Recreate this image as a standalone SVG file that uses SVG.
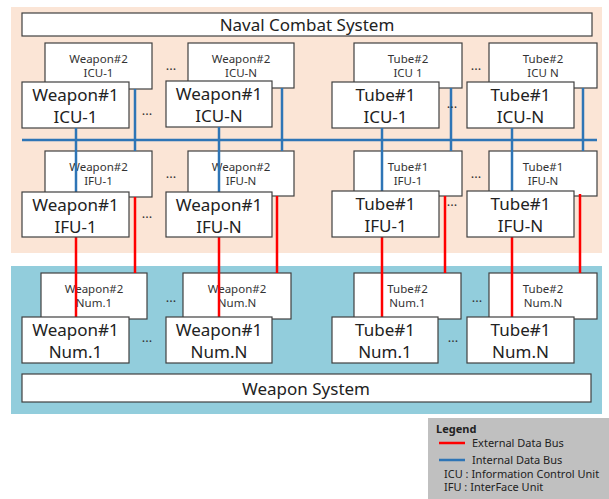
<svg xmlns="http://www.w3.org/2000/svg" width="609" height="499" viewBox="0 0 609 499">
<style>
text{font-family:"Noto Sans","Open Sans","DejaVu Sans",sans-serif;fill:#222}
.box{fill:#fff;stroke:#404040;stroke-width:1.2}
.big{font-size:17px;text-anchor:middle}
.sm{font-size:11.5px;text-anchor:middle;fill:#333}
.dots{font-size:13px;text-anchor:middle;fill:#333}
.ib{stroke:#2e75b6;stroke-width:2.5;fill:none}
.eb{stroke:#ff0000;stroke-width:2.5;fill:none}
.leg{font-size:11px;fill:#222}
</style>
<rect width="609" height="499" fill="#fff"/>
<g id="naval-area"><rect x="11" y="7" width="591" height="246" fill="#fbe5d6"/></g>
<g id="weapon-area"><rect x="11" y="266" width="591" height="148" fill="#92cddc"/></g>
<g id="naval-combat-system"><rect class="box" x="22" y="13" width="570" height="23"/><text class="big" x="307" y="31">Naval Combat System</text></g>
<g id="weapon-system"><rect class="box" x="22" y="374" width="569" height="28"/><text class="big" x="306" y="395">Weapon System</text></g>

<!-- ICU row back boxes -->
<g id="w2-icu-1"><rect class="box" x="45" y="43" width="107" height="46"/><text class="sm" x="98.5" y="63">Weapon#2</text><text class="sm" x="98.5" y="77">ICU-1</text></g>
<g id="w2-icu-n"><rect class="box" x="188" y="43" width="106" height="45"/><text class="sm" x="241" y="63">Weapon#2</text><text class="sm" x="241" y="77">ICU-N</text></g>
<g id="t2-icu-1"><rect class="box" x="354" y="43" width="108" height="45"/><text class="sm" x="408" y="63">Tube#2</text><text class="sm" x="408" y="77">ICU 1</text></g>
<g id="t2-icu-n"><rect class="box" x="489" y="43" width="108" height="45"/><text class="sm" x="543" y="63">Tube#2</text><text class="sm" x="543" y="77">ICU N</text></g>
<!-- ICU row front boxes -->
<g id="w1-icu-1"><rect class="box" x="22" y="82" width="107" height="46"/><text class="big" x="75.5" y="101">Weapon#1</text><text class="big" x="75.5" y="123">ICU-1</text></g>
<g id="w1-icu-n"><rect class="box" x="166" y="81" width="106" height="46"/><text class="big" x="219" y="100">Weapon#1</text><text class="big" x="219" y="122">ICU-N</text></g>
<g id="t1-icu-1"><rect class="box" x="332" y="82" width="107" height="46"/><text class="big" x="385.5" y="101">Tube#1</text><text class="big" x="385.5" y="123">ICU-1</text></g>
<g id="t1-icu-n"><rect class="box" x="467" y="82" width="107" height="46"/><text class="big" x="520.5" y="101">Tube#1</text><text class="big" x="520.5" y="123">ICU-N</text></g>

<!-- IFU row back boxes -->
<g id="w2-ifu-1"><rect class="box" x="45" y="151" width="107" height="46"/><text class="sm" x="98.5" y="171">Weapon#2</text><text class="sm" x="98.5" y="185">IFU-1</text></g>
<g id="w2-ifu-n"><rect class="box" x="188" y="151" width="106" height="45"/><text class="sm" x="241" y="171">Weapon#2</text><text class="sm" x="241" y="185">IFU-N</text></g>
<g id="t1b-ifu-1"><rect class="box" x="354" y="151" width="108" height="45"/><text class="sm" x="408" y="171">Tube#1</text><text class="sm" x="408" y="185">IFU-1</text></g>
<g id="t1b-ifu-n"><rect class="box" x="489" y="151" width="108" height="45"/><text class="sm" x="543" y="171">Tube#1</text><text class="sm" x="543" y="185">IFU-N</text></g>

<!-- Num row back boxes -->
<g id="w2-num-1"><rect class="box" x="41" y="273" width="106" height="46"/><text class="sm" x="94" y="293">Weapon#2</text><text class="sm" x="94" y="307">Num.1</text></g>
<g id="w2-num-n"><rect class="box" x="183" y="273" width="108" height="46"/><text class="sm" x="237" y="293">Weapon#2</text><text class="sm" x="237" y="307">Num.N</text></g>
<g id="t2-num-1"><rect class="box" x="354" y="273" width="107" height="46"/><text class="sm" x="407.5" y="293">Tube#2</text><text class="sm" x="407.5" y="307">Num.1</text></g>
<g id="t2-num-n"><rect class="box" x="489" y="273" width="108" height="46"/><text class="sm" x="543" y="293">Tube#2</text><text class="sm" x="543" y="307">Num.N</text></g>

<g id="connectors">
<line class="ib" x1="22" y1="140" x2="597" y2="140"/>
<line class="ib" x1="76" y1="128" x2="76" y2="192"/>
<line class="ib" x1="135" y1="89" x2="135" y2="151"/>
<line class="ib" x1="219" y1="127" x2="219" y2="192"/>
<line class="ib" x1="282" y1="88" x2="282" y2="151"/>
<line class="ib" x1="382" y1="128" x2="382" y2="191"/>
<line class="ib" x1="451" y1="88" x2="451" y2="151"/>
<line class="ib" x1="512" y1="128" x2="512" y2="191"/>
<line class="ib" x1="583" y1="88" x2="583" y2="151"/>
<line class="eb" x1="76" y1="237" x2="76" y2="317"/>
<line class="eb" x1="135" y1="197" x2="135" y2="273"/>
<line class="eb" x1="219" y1="237" x2="219" y2="317"/>
<line class="eb" x1="277" y1="196" x2="277" y2="273"/>
<line class="eb" x1="382" y1="237" x2="382" y2="317"/>
<line class="eb" x1="445" y1="196" x2="445" y2="273"/>
<line class="eb" x1="512" y1="237" x2="512" y2="317"/>
<line class="eb" x1="580" y1="194" x2="580" y2="273"/>
</g>

<!-- IFU row front boxes -->
<g id="w1-ifu-1"><rect class="box" x="22" y="192" width="107" height="45"/><text class="big" x="75.5" y="211">Weapon#1</text><text class="big" x="75.5" y="233">IFU-1</text></g>
<g id="w1-ifu-n"><rect class="box" x="166" y="192" width="106" height="45"/><text class="big" x="219" y="211">Weapon#1</text><text class="big" x="219" y="233">IFU-N</text></g>
<g id="t1-ifu-1"><rect class="box" x="332" y="191" width="107" height="46"/><text class="big" x="385.5" y="210">Tube#1</text><text class="big" x="385.5" y="232">IFU-1</text></g>
<g id="t1-ifu-n"><rect class="box" x="467" y="191" width="107" height="46"/><text class="big" x="520.5" y="210">Tube#1</text><text class="big" x="520.5" y="232">IFU-N</text></g>

<!-- Num row front boxes -->
<g id="w1-num-1"><rect class="box" x="22" y="317" width="107" height="46"/><text class="big" x="75.5" y="336">Weapon#1</text><text class="big" x="75.5" y="358">Num.1</text></g>
<g id="w1-num-n"><rect class="box" x="166" y="317" width="106" height="46"/><text class="big" x="219" y="336">Weapon#1</text><text class="big" x="219" y="358">Num.N</text></g>
<g id="t1-num-1"><rect class="box" x="332" y="317" width="106" height="46"/><text class="big" x="385" y="336">Tube#1</text><text class="big" x="385" y="358">Num.1</text></g>
<g id="t1-num-n"><rect class="box" x="467" y="317" width="107" height="46"/><text class="big" x="520.5" y="336">Tube#1</text><text class="big" x="520.5" y="358">Num.N</text></g>

<g id="ellipses">
<text class="dots" x="171" y="74">···</text>
<text class="dots" x="147" y="119">···</text>
<text class="dots" x="476" y="74">···</text>
<text class="dots" x="452" y="112">···</text>
<text class="dots" x="171" y="182">···</text>
<text class="dots" x="147" y="222">···</text>
<text class="dots" x="476" y="182">···</text>
<text class="dots" x="452" y="210">···</text>
<text class="dots" x="171" y="306">···</text>
<text class="dots" x="147" y="346">···</text>
<text class="dots" x="477" y="306">···</text>
<text class="dots" x="453" y="346">···</text>
</g>

<g id="legend">
<rect x="428" y="418" width="181" height="81" fill="#c0c0c0"/>
<text class="leg" x="436" y="433" style="font-weight:bold">Legend</text>
<line x1="439" y1="443" x2="465" y2="443" stroke="#ff0000" stroke-width="2.5"/>
<text class="leg" x="472" y="447">External Data Bus</text>
<line x1="439" y1="460" x2="465" y2="460" stroke="#2e75b6" stroke-width="2.5"/>
<text class="leg" x="472" y="464">Internal Data Bus</text>
<text class="leg" x="444" y="477.5">ICU : Information Control Unit</text>
<text class="leg" x="444" y="491">IFU : InterFace Unit</text>
</g>
</svg>
